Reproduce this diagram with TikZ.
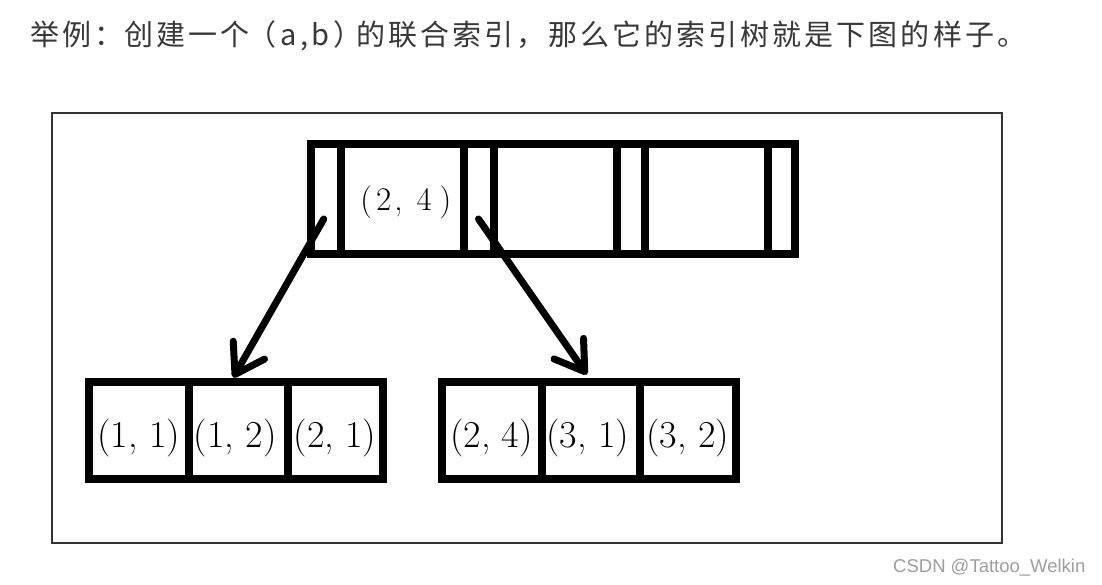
\documentclass[tikz,border=0pt]{standalone}
\usepackage{fontspec}
\newfontfamily\cjk[LetterSpace=10.5]{Noto Sans CJK SC}
\newfontfamily\wmfont{Liberation Sans}
\usetikzlibrary{arrows.meta}
\begin{document}
\begin{tikzpicture}[x=1pt,y=-1pt,
  cell/.style={draw, line width=8pt, inner sep=0pt, outer sep=0pt, minimum height=#1},
  topcell/.style={cell=110pt},
  leafcell/.style={cell=97.5pt},
  leaftext/.style={inner sep=0pt, anchor=base, font=\fontsize{38}{40}\selectfont},
  toptext/.style={inner sep=0pt, anchor=base west, font=\fontsize{33}{35}\selectfont},
  titletext/.style={inner sep=0pt, anchor=base west, text=black!78, font=\cjk\fontsize{29}{31}\selectfont},
  marktext/.style={inner sep=0pt, anchor=base west, text=black!38, font=\wmfont\fontsize{18.5}{20}\selectfont},
  pointer/.style={line width=7pt, line cap=round, -{Straight Barb[length=28pt,width=36pt,round]}},
  frame/.style={draw=black!80, line width=2pt}
]
\useasboundingbox[fill=white] (0,0) rectangle (1102,584);

% title
\node[titletext] (title1) at (30,45) {举例：};
\node[titletext] (title2) at (124,45) {创建一个};
\node[titletext, anchor=base] (title3) at (305,45) {（\kern4pt a,b\kern4pt）};
\node[titletext] (title4) at (356,45) {的联合索引，那么它的索引树就是下图的样子。};

% frame
\draw[frame] (51.7,113.3) rectangle (1001.7,543.3);

% top node
\node[topcell, minimum width=30.5pt] (p1) at (325.75,199) {};
\node[topcell, minimum width=122.5pt] (k1) at (402.25,199) {};
\node[topcell, minimum width=30pt] (p2) at (478.5,199) {};
\node[topcell, minimum width=123pt] (k2) at (555,199) {};
\node[topcell, minimum width=28.5pt] (p3) at (630.75,199) {};
\node[topcell, minimum width=122.5pt] (k3) at (706.25,199) {};
\node[topcell, minimum width=27.5pt] (p4) at (781.25,199) {};
\node[toptext] (tk1) at ([xshift=-42pt,yshift=-11pt]k1.center) {(\kern4pt2\kern3pt,\kern14pt4\kern8pt)};

% left leaf
\node[leafcell, minimum width=100.5pt] (a1) at (138.75,430.25) {};
\node[leafcell, minimum width=98.5pt] (a2) at (238.25,430.25) {};
\node[leafcell, minimum width=95pt] (a3) at (335,430.25) {};
\node[leaftext] (ta1) at ([yshift=-17pt]a1.center) {(1, 1)};
\node[leaftext] (ta2) at ([xshift=-3pt,yshift=-17pt]a2.center) {(1, 2)};
\node[leaftext] (ta3) at ([yshift=-17pt]a3.center) {(2, 1)};

% right leaf
\node[leafcell, minimum width=100pt] (b1) at (491.5,430.25) {};
\node[leafcell, minimum width=98.5pt] (b2) at (590.75,430.25) {};
\node[leafcell, minimum width=95.5pt] (b3) at (687.75,430.25) {};
\node[leaftext] (tb1) at ([yshift=-17pt]b1.center) {(2, 4)};
\node[leaftext] (tb2) at ([xshift=-3pt,yshift=-17pt]b2.center) {(3, 1)};
\node[leaftext] (tb3) at ([yshift=-17pt]b3.center) {(3, 2)};

% pointers
\draw[pointer] ([xshift=-2pt,yshift=-20pt]p1.center) -- ([xshift=-5pt,yshift=4pt]a2.north);
\draw[pointer] ([xshift=0pt,yshift=-20pt]p2.center) -- ([xshift=-4pt,yshift=7pt]b2.north);

% credit
\node[marktext] (credit) at (893,572) {CSDN @Tattoo\_Welkin};
\end{tikzpicture}
\end{document}
